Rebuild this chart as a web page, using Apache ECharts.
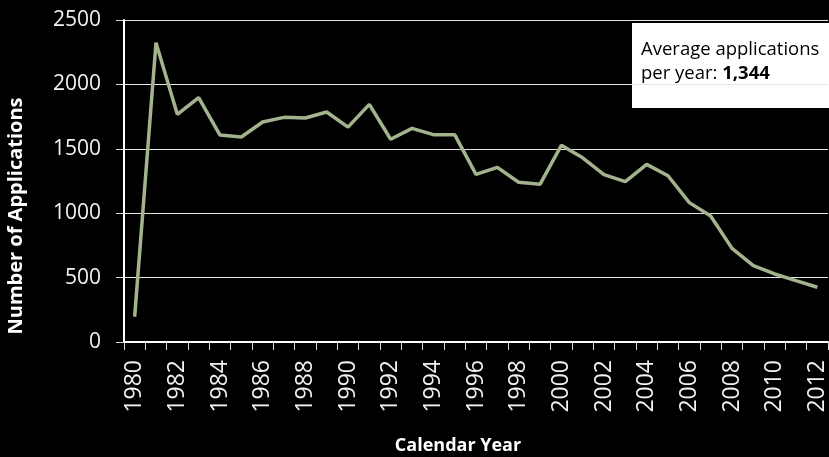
<!DOCTYPE html>
<html>
<head>
<meta charset="utf-8">
<script src="https://cdn.jsdelivr.net/npm/echarts@6/dist/echarts.min.js"></script>
<style>
  html, body { margin: 0; padding: 0; background: #000; }
  #chart { width: 829px; height: 457px; }
</style>
</head>
<body>
<div id="chart"></div>
<script>
// years shown on the x axis
const years = []
for (let y = 1980; y <= 2012; y++) years.push(String(y))

// applications per calendar year
const applications = [
  196, 2324, 1768, 1897, 1607, 1592, 1708, 1744, 1739, 1786,
  1668, 1845, 1574, 1659, 1610, 1610, 1302, 1356, 1240, 1224,
  1527, 1430, 1299, 1245, 1379, 1291, 1082, 978, 727, 593,
  528, 476, 425,
]

const yTicks = [0, 500, 1000, 1500, 2000, 2500]
const averageLabel = '1,344'

const chart = echarts.init(document.getElementById('chart'))

const font = 'Open Sans'

chart.setOption({
  backgroundColor: '#000',
  animation: false,
  grid: { left: 124, right: 1, top: 20, bottom: 115 },
  xAxis: {
    type: 'category',
    data: years,
    boundaryGap: true,
    axisLine: { lineStyle: { color: '#fff', width: 2 } },
    axisTick: { show: true, interval: 0, length: 8, lineStyle: { color: '#d9d9d9' } },
    axisLabel: {
      interval: 1,
      rotate: 90,
      margin: 18,
      color: '#f2f2f2',
      fontFamily: font,
      fontSize: 23,
    },
  },
  yAxis: {
    type: 'value',
    min: yTicks[0],
    max: yTicks[yTicks.length - 1],
    interval: 500,
    axisLine: { show: true, lineStyle: { color: '#fff', width: 2 } },
    axisTick: { show: true, length: 8, lineStyle: { color: '#d9d9d9' } },
    axisLabel: {
      margin: 23,
      color: '#f2f2f2',
      fontFamily: font,
      fontSize: 21,
      formatter: (v) => String(v),
    },
    splitLine: { lineStyle: { color: '#e6e6e6', width: 1 } },
  },
  series: [
    {
      type: 'line',
      data: applications,
      symbol: 'none',
      lineStyle: { color: '#a2b38d', width: 3.5 },
    },
  ],
  graphic: [
    {
      type: 'text',
      x: 6,
      y: 216,
      rotation: Math.PI / 2,
      style: {
        text: 'Number of Applications',
        fill: '#fff',
        font: 'bold 20px "Open Sans"',
        align: 'center',
        verticalAlign: 'top',
      },
    },
    {
      type: 'text',
      x: 458,
      y: 446,
      style: {
        text: 'Calendar Year',
        fill: '#fff',
        font: 'bold 18px "Open Sans"',
        align: 'center',
        verticalAlign: 'middle',
      },
    },
    {
      type: 'rect',
      shape: { x: 632, y: 23, width: 200, height: 85 },
      style: { fill: '#fff' },
    },
    {
      type: 'text',
      x: 641,
      y: 38,
      style: {
        text: '{n|Average applications}\n{n|per year: }{b|' + averageLabel + '}',
        rich: {
          n: { fontFamily: font, fontSize: 18.5, fill: '#000', lineHeight: 24 },
          b: { fontFamily: font, fontSize: 18.5, fontWeight: 'bold', fill: '#000', lineHeight: 24 },
        },
      },
    },
  ],
})
</script>
</body>
</html>
